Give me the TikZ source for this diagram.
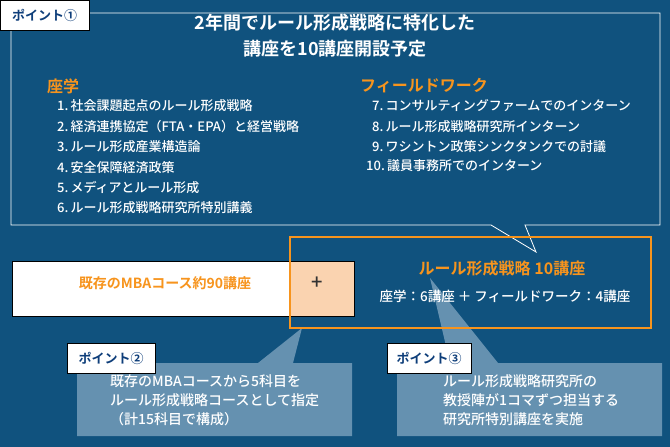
\documentclass[tikz,border=0pt]{standalone}
\usepackage{fontspec}
\setmainfont{Noto Sans CJK JP Medium}[BoldFont={Noto Sans CJK JP Bold}]
\definecolor{bg}{HTML}{10527E}
\definecolor{org}{HTML}{F7941D}
\definecolor{peach}{HTML}{FAD3B0}
\definecolor{pale}{HTML}{6F98B6}
\definecolor{navy}{HTML}{0E3E7A}
\begin{document}
\begin{tikzpicture}[x=1pt,y=-1pt,
  tag/.style={draw=black,fill=white,text=navy,font=\bfseries\fontsize{13}{15}\selectfont,inner sep=0pt,minimum height=30pt,anchor=north west},
  item/.style={text=white,font=\fontsize{13}{15}\selectfont,anchor=west,inner sep=0pt},
  head/.style={text=org,font=\bfseries\fontsize{16}{18}\selectfont,anchor=west,inner sep=0pt},
  note/.style={text=white,font=\fontsize{14}{19}\selectfont,align=left,anchor=north west,inner sep=0pt}]
\fill[bg] (0,0) rectangle (670,447);
\useasboundingbox (0,0) rectangle (670,447);
% big callout
\draw[white,line width=0.8pt] (11,13) -- (660,13) -- (660,225) -- (525,225) -- (536,252) -- (491,225) -- (11,225) -- cycle;
\node[tag,minimum width=89pt] (t1) at (0,0) {ポイント①};
\node[text=white,font=\bfseries\fontsize{18}{26}\selectfont,align=center] (title) at (335,36) {2年間でルール形成戦略に特化した\\講座を10講座開設予定};
\node[head] (h1) at (47,86) {座学};
\node[item] (a1) at (57,106) {1.\,社会課題起点のルール形成戦略};
\node[item] (a2) at (57,127) {2.\,経済連携協定（FTA・EPA）と経営戦略};
\node[item] (a3) at (57,147) {3.\,ルール形成産業構造論};
\node[item] (a4) at (57,168) {4.\,安全保障経済政策};
\node[item] (a5) at (57,188) {5.\,メディアとルール形成};
\node[item] (a6) at (57,208) {6.\,ルール形成戦略研究所特別講義};
\node[head] (h2) at (360,86) {フィールドワーク};
\node[item] (b1) at (372,106) {7.\,コンサルティングファームでのインターン};
\node[item] (b2) at (372,127) {8.\,ルール形成戦略研究所インターン};
\node[item] (b3) at (372,147) {9.\,ワシントン政策シンクタンクでの討議};
\node[item] (b4) at (366,166) {10.\,議員事務所でのインターン};
% callouts 2,3
\fill[pale,opacity=0.9] (77,363) -- (258,363) -- (302,328) -- (293,363) -- (352,363) -- (352,436) -- (77,436) -- cycle;
\fill[pale,opacity=0.9] (397,363) -- (450,363) -- (430,278) -- (498,363) -- (662,363) -- (662,436) -- (397,436) -- cycle;
% boxes
\fill[white] (12,261) rectangle (290,316);
\fill[peach] (290,261) rectangle (354,316);
\draw[black] (12,261) rectangle (354,316);
\node[text=org,font=\bfseries\fontsize{14}{16}\selectfont] (mba) at (165,283) {既存のMBAコース約90講座};
\node[font=\fontsize{20}{20}\selectfont,text=black!80] (plus) at (317,283) {+};
\draw[org,line width=1.5pt] (290,237) rectangle (651,328);
\node[text=org,font=\bfseries\fontsize{16}{18}\selectfont] (r1) at (502,268) {ルール形成戦略 10講座};
\node[text=white,font=\fontsize{13.5}{15}\selectfont] (r2) at (505,296) {座学：6講座 ＋ フィールドワーク：4講座};
\node[tag,minimum width=88pt] (t2) at (67,343) {ポイント②};
\node[tag,minimum width=84pt] (t3) at (387,343) {ポイント③};
\node[note] (n2) at (110,374) {既存のMBAコースから5科目を\\ルール形成戦略コースとして指定\\（計15科目で構成）};
\node[note] (n3) at (443,374) {ルール形成戦略研究所の\\教授陣が1コマずつ担当する\\研究所特別講座を実施};
\end{tikzpicture}
\end{document}
